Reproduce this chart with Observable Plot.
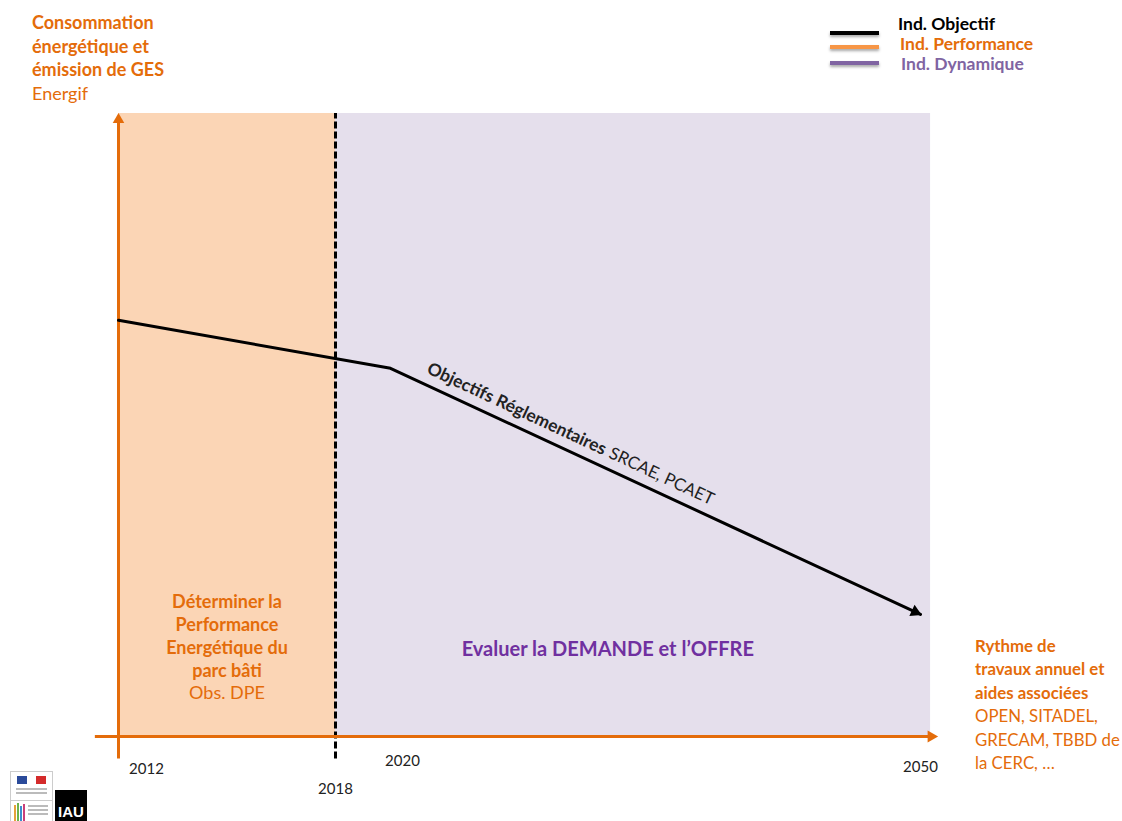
<!DOCTYPE html>
<html>
<head>
<meta charset="utf-8">
<script src="https://cdn.jsdelivr.net/npm/d3@7"></script>
<script src="https://cdn.jsdelivr.net/npm/@observablehq/plot@0.6"></script>
<style>
  html, body { margin: 0; padding: 0; background: #fff; }
  #wrap { position: relative; width: 1122px; height: 821px; font-family: Lato, "Open Sans", sans-serif; overflow: hidden; }
  #chart { position: absolute; left: 0; top: 0; }
  .txt { position: absolute; white-space: nowrap; }
  .or { color: #E46C0A; }
  .b { font-weight: 700; }
  .leg { position: absolute; white-space: nowrap; font-weight: 700; font-size: 17.5px; line-height: 19px; }
  .legline { position: absolute; height: 4px; width: 49px; box-shadow: 0 2px 3px rgba(0,0,0,0.35); }
</style>
</head>
<body>
<div id="wrap">
  <div id="chart"></div>

  <div class="txt or" style="left:32px; top:11px; font-size:18px; line-height:23.7px;">
    <div class="b">Consommation</div>
    <div class="b">énergétique et</div>
    <div class="b">émission de GES</div>
    <div>Energif</div>
  </div>

  <div class="legline" style="left:830px; top:31px; background:#000;"></div>
  <div class="legline" style="left:830px; top:45px; background:#F79646;"></div>
  <div class="legline" style="left:830px; top:61px; background:#8064A2;"></div>
  <div class="leg" style="left:898px; top:14px; color:#000;">Ind. Objectif</div>
  <div class="leg" style="left:900px; top:34px; color:#E46C0A;">Ind. Performance</div>
  <div class="leg" style="left:901px; top:53.5px; color:#8064A2;">Ind. Dynamique</div>

  <div class="txt or" style="left:975px; top:634px; font-size:16.8px; line-height:23.4px;">
    <div class="b">Rythme de</div>
    <div class="b">travaux annuel et</div>
    <div class="b">aides associées</div>
    <div>OPEN, SITADEL,</div>
    <div>GRECAM, TBBD de</div>
    <div>la CERC, …</div>
  </div>

  <!-- logos -->
  <div style="position:absolute; left:10px; top:771px; width:41px; height:28px; border:1px solid #ccc; background:#fff;">
    <div style="position:absolute; left:6px; top:4px; width:10px; height:8px; background:#2a4a9a;"></div>
    <div style="position:absolute; left:16px; top:4px; width:6px; height:8px; background:#fff;"></div>
    <div style="position:absolute; left:25px; top:4px; width:10px; height:8px; background:#d42b2b;"></div>
    <div style="position:absolute; left:5px; top:16px; width:31px; height:2px; background:#bbb;"></div>
    <div style="position:absolute; left:5px; top:20px; width:31px; height:2px; background:#bbb;"></div>
  </div>
  <div style="position:absolute; left:10px; top:800px; width:41px; height:21px; border:1px solid #ccc; background:#fff;">
    <div style="position:absolute; left:3px; top:4px; width:2px; height:16px; background:#e5a23a;"></div>
    <div style="position:absolute; left:6px; top:2px; width:2px; height:18px; background:#6db34a;"></div>
    <div style="position:absolute; left:9px; top:5px; width:2px; height:15px; background:#3b8fd0;"></div>
    <div style="position:absolute; left:12px; top:3px; width:2px; height:17px; background:#c9407a;"></div>
    <div style="position:absolute; left:17px; top:4px; width:20px; height:2px; background:#bbb;"></div>
    <div style="position:absolute; left:17px; top:8px; width:20px; height:2px; background:#bbb;"></div>
    <div style="position:absolute; left:17px; top:12px; width:20px; height:2px; background:#bbb;"></div>
  </div>
  <div style="position:absolute; left:55px; top:790px; width:32px; height:31px; background:#000; color:#fff; font-family:'Liberation Sans', Arial, sans-serif; font-weight:700; font-size:15px; line-height:15px;">
    <div style="position:absolute; left:3px; bottom:2px;">IAU</div>
  </div>
</div>

<script>
// ---- data ----
const objYears = [2012, 2020, 2050];
const objValues = [66.8, 59.1, 19.6];

const zoneStart = [2012, 2018];
const zoneEnd = [2018, 2050.57];
const zoneNames = ["Performance", "Dynamique"];

const tickYears = [2012, 2018, 2020, 2050];
const tickLabels = ["2012", "2018", "2020", "2050"];

const perfLabel = "Déterminer la\nPerformance\nEnergétique du\nparc bâti";
const perfSource = "Obs. DPE";
const dynLabel = "Evaluer la DEMANDE et l’OFFRE";
const objLabelBold = "Objectifs Réglementaires";
const objLabelNormal = "SRCAE, PCAET";

// ---- derived tables ----
const objData = objYears.map((x, i) => ({x, y: objValues[i]}));
const zones = zoneStart.map((x1, i) => ({x1, x2: zoneEnd[i], name: zoneNames[i]}));
const ticks = tickYears.map((x, i) => ({x, label: tickLabels[i]}));
const lineAt = yr => {
  for (let i = 0; i < objYears.length - 1; i++) {
    if (yr >= objYears[i] && yr <= objYears[i + 1]) {
      const t = (yr - objYears[i]) / (objYears[i + 1] - objYears[i]);
      return objValues[i] + t * (objValues[i + 1] - objValues[i]);
    }
  }
  return objValues[objValues.length - 1];
};

const ORANGE = "#E46C0A";
const tickOffsets = {2012: [28, 33], 2018: [0, 53], 2020: [12, 25], 2050: [0, 31]};

const marks = [
  Plot.rectY(zones, {x1: "x1", x2: "x2", y1: 0, y2: 100, fill: d => d.name === "Performance" ? "#FBD5B5" : "#E5DFEC"}),
  // dashed 2018 separator
  Plot.ruleX([2018], {y1: -3.6, y2: 100, stroke: "#000", strokeWidth: 3, strokeDasharray: "7,3"}),
  // y axis with arrow
  Plot.ruleX([2012], {y1: -3.6, y2: 98.5, stroke: ORANGE, strokeWidth: 3}),
  Plot.dot([2012], {x: d => d, y: () => 99.0, symbol: "triangle", r: 4.3, fill: ORANGE, stroke: null}),
  // x axis with arrow
  Plot.ruleY([0], {x1: 2011.36, x2: 2050.6, stroke: ORANGE, strokeWidth: 3}),
  Plot.dot([0], {x: () => 2050.6, y: d => d, symbol: "triangle", r: 4.5, rotate: 90, fill: ORANGE, stroke: null}),
  // objective line
  Plot.line(objData, {x: "x", y: "y", stroke: "#000", strokeWidth: 3}),
  Plot.dot([objData[objData.length - 1]], {x: d => d.x - 0.3, y: d => lineAt(2049.7) , symbol: "triangle", r: 4.6, rotate: 115, fill: "#000", stroke: null}),
  // rotated line labels
  Plot.text([2022.0], {x: d => d, y: d => lineAt(d), text: () => objLabelBold, rotate: 25, textAnchor: "start", lineAnchor: "bottom", dy: -12, fontSize: 17.5, fontWeight: 700, fill: "#222"}),
  Plot.text([2032.3], {x: d => d, y: d => lineAt(d), text: () => objLabelNormal, rotate: 25, textAnchor: "start", lineAnchor: "bottom", dy: -12, fontSize: 17, fill: "#222"}),
  // zone labels
  Plot.text([2015], {x: d => d, y: () => 16.3, text: () => perfLabel, lineHeight: 1.28, fontSize: 18, fontWeight: 700, fill: ORANGE}),
  Plot.text([2015], {x: d => d, y: () => 7.0, text: () => perfSource, fontSize: 18, fill: ORANGE}),
  Plot.text([2032.3], {x: d => d, y: () => 14.0, text: () => dynLabel, fontSize: 20, fontWeight: 700, fill: "#7030A0"}),
  // year tick labels
  ...ticks.map(t => Plot.text([t], {x: "x", y: () => 0, text: "label", dx: tickOffsets[t.x][0], dy: tickOffsets[t.x][1], fontSize: 15, fill: "#222"}))
];

const chart = Plot.plot({
  width: 1122,
  height: 821,
  margin: 0,
  style: {fontFamily: "Lato, 'Open Sans', sans-serif", background: "transparent", overflow: "visible"},
  x: {type: "linear", domain: [2012, 2018, 2020, 2050], range: [118, 335, 390, 920], axis: null, clamp: false},
  y: {type: "linear", domain: [0, 100], range: [736, 113], axis: null},
  marks
});
document.getElementById("chart").appendChild(chart);
</script>
</body>
</html>
